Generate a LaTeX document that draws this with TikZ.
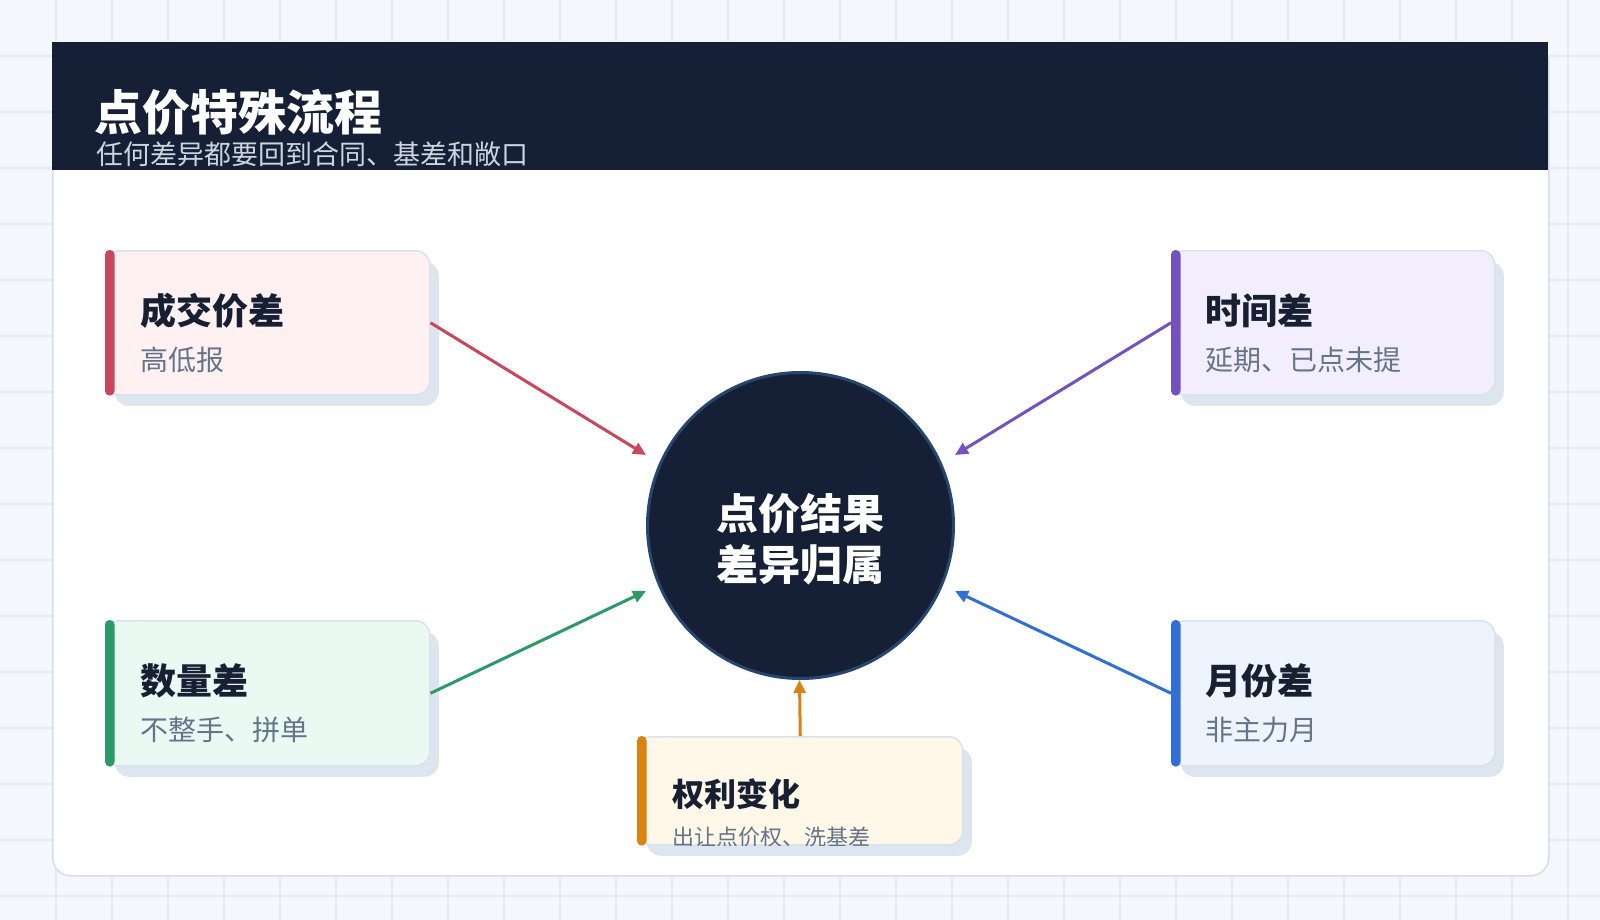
\documentclass[tikz,border=0pt]{standalone}
\usepackage{fontspec}
\setmainfont{Noto Sans CJK SC}
\usetikzlibrary{arrows.meta,shadows,calc}
\definecolor{bg}{HTML}{F4F7FC}
\definecolor{gridc}{HTML}{E5EBF3}
\definecolor{cardb}{HTML}{D5DEEA}
\definecolor{navy}{HTML}{152036}
\definecolor{ring}{HTML}{27466E}
\definecolor{subw}{HTML}{CBD5E1}
\definecolor{ink}{HTML}{172033}
\definecolor{muted}{HTML}{64748B}
\definecolor{shade}{HTML}{DDE5EF}
\definecolor{boxb}{HTML}{D9E2EE}
\definecolor{acR}{HTML}{C8475D}\definecolor{fiR}{HTML}{FFF0F2}
\definecolor{acP}{HTML}{7352BF}\definecolor{fiP}{HTML}{F3EEFD}
\definecolor{acG}{HTML}{2B9A67}\definecolor{fiG}{HTML}{EBF9F3}
\definecolor{acB}{HTML}{2F6FD6}\definecolor{fiB}{HTML}{EDF4FE}
\definecolor{acO}{HTML}{D98312}\definecolor{fiO}{HTML}{FFF7E8}
\begin{document}
\begin{tikzpicture}[x=1pt,y=-1pt,
  cardbox/.style={rectangle, rounded corners=14pt, draw=boxb, line width=1.5pt, inner sep=0pt,
    minimum width=324pt, minimum height=144pt, anchor=north west,
    drop shadow={shadow xshift=9pt, shadow yshift=-11pt, fill=shade, opacity=1}},
  ttl/.style={anchor=base west, inner sep=0pt, text=ink, font=\fontsize{36pt}{40pt}\selectfont\bfseries},
  sub/.style={anchor=base west, inner sep=0pt, text=muted, font=\fontsize{28pt}{32pt}\selectfont},
  arr/.style={line width=3pt, -{Triangle[length=13pt,width=12pt]}}]
\useasboundingbox (0,0) rectangle (1600,920);
\fill[bg] (0,0) rectangle (1600,920);
\foreach \i in {1,...,28} \draw[gridc, line width=1.2pt] (\i*56,0) -- (\i*56,920);
\foreach \j in {1,...,16} \draw[gridc, line width=1.2pt] (0,\j*56) -- (1600,\j*56);
% card and header
\node[draw=cardb, fill=white, rounded corners=18pt, line width=1.5pt, inner sep=0pt,
  minimum width=1496pt, minimum height=833pt, anchor=north west] (card) at (52,42) {};
\node[fill=navy, inner sep=0pt, minimum width=1496pt, minimum height=128pt, anchor=north west] (hdr) at (52,42) {};
\node[anchor=base west, inner sep=0pt, text=white, font=\fontsize{48pt}{56pt}\selectfont\bfseries] (title) at (94,131) {点价特殊流程};
\node[anchor=base west, inner sep=0pt, text=subw, font=\fontsize{27pt}{30pt}\selectfont] (subtitle) at (96,165) {任何差异都要回到合同、基差和敞口};
% center circle
\node[circle, fill=navy, draw=ring, line width=3pt, minimum size=306pt, inner sep=0pt] (core) at (800.5,525.5) {};
\node[anchor=base, inner sep=0pt, text=white, font=\fontsize{42pt}{48pt}\selectfont\bfseries] (c1) at (800.5,529) {点价结果};
\node[anchor=base, inner sep=0pt, text=white, font=\fontsize{42pt}{48pt}\selectfont\bfseries] (c2) at (800.5,580) {差异归属};
% boxes
\node[cardbox, fill=fiR] (A) at (105,250) {};
\fill[acR, rounded corners=4.5pt] (A.north west) rectangle ([xshift=9.5pt]A.south west);
\node[ttl] (At) at (140,324.5) {成交价差};
\node[sub] (As) at (140,370) {高低报};

\node[cardbox, fill=fiP, minimum width=323pt] (B) at (1171,250) {};
\fill[acP, rounded corners=4.5pt] (B.north west) rectangle ([xshift=9.5pt]B.south west);
\node[ttl] (Bt) at (1205,324.5) {时间差};
\node[sub] (Bs) at (1205,370) {延期、已点未提};

\node[cardbox, fill=fiG, minimum height=145pt] (C) at (105,620) {};
\fill[acG, rounded corners=4.5pt] (C.north west) rectangle ([xshift=9.5pt]C.south west);
\node[ttl] (Ct) at (140,694.5) {数量差};
\node[sub] (Cs) at (140,740) {不整手、拼单};

\node[cardbox, fill=fiB, minimum width=323pt, minimum height=145pt] (D) at (1171,620) {};
\fill[acB, rounded corners=4.5pt] (D.north west) rectangle ([xshift=9.5pt]D.south west);
\node[ttl] (Dt) at (1205,694.5) {月份差};
\node[sub] (Ds) at (1205,740) {非主力月};

\node[cardbox, fill=fiO, minimum width=325pt, minimum height=108pt] (E) at (637,736) {};
\fill[acO, rounded corners=4.5pt] (E.north west) rectangle ([xshift=9.5pt]E.south west);
\node[ttl, font=\fontsize{32pt}{36pt}\selectfont\bfseries] (Et) at (672,806) {权利变化};
\begin{scope}
\clip[rounded corners=14pt] (E.north west) rectangle (E.south east);
\node[sub, font=\fontsize{22pt}{26pt}\selectfont] (Es) at (672,845) {出让点价权、洗基差};
\end{scope}
% connectors
\coordinate (tA) at (646,455);
\coordinate (tB) at (955,455);
\coordinate (tC) at (646,591);
\coordinate (tD) at (955,591);
\coordinate (tE) at (799.5,680);
\draw[arr, acR] (A.east) -- (tA);
\draw[arr, acP] (B.west) -- (tB);
\draw[arr, acG] (C.east) -- (tC);
\draw[arr, acB] (D.west) -- (tD);
\draw[arr, acO] (E.north) -- (tE);
\end{tikzpicture}
\end{document}
